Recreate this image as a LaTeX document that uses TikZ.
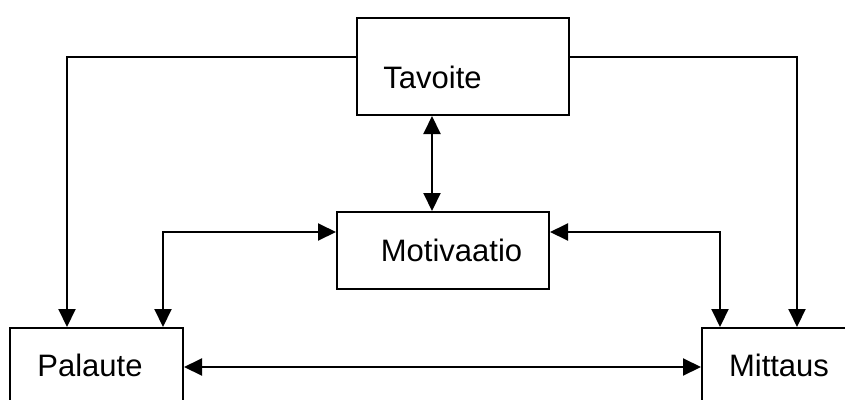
\documentclass[tikz,border=0pt]{standalone}
\usepackage{fontspec}
\setmainfont{Liberation Sans}
\usetikzlibrary{arrows.meta}
\begin{document}
\begin{tikzpicture}[x=1pt,y=-1pt,
  box/.style={draw=black,line width=2pt,rectangle,inner sep=0pt,fill=none},
  lbl/.style={inner sep=0pt,font=\fontsize{31}{31}\selectfont},
  conn/.style={line width=2pt,draw=black},
  tipa/.style={-{Triangle[length=18pt,width=17pt]}},
  tipb/.style={{Triangle[length=18pt,width=17pt]}-{Triangle[length=18pt,width=17pt]}}]
\clip (0,0) rectangle (845,399);
\fill[white] (0,0) rectangle (845,399);
\node[box,minimum width=212pt,minimum height=97pt] (tav) at (463,66.5) {};
\node[box,minimum width=212pt,minimum height=77pt] (mot) at (443,250.5) {};
\node[box,minimum width=173pt,minimum height=92pt] (pal) at (96.5,374) {};
\node[box,minimum width=158pt,minimum height=92pt] (mit) at (781,374) {};
\node[lbl] (tavt) at (432.5,77) {Tavoite};
\node[lbl] (mott) at (451.5,250) {Motivaatio};
\node[lbl] (palt) at (90,365) {Palaute};
\node[lbl] (mitt) at (779,365) {Mittaus};
\coordinate (tl) at (67,57);
\coordinate (tr) at (797,57);
\coordinate (tm) at (432,0);
\coordinate (ml) at (163,232);
\coordinate (mr) at (720,232);
\coordinate (hb) at (0,367);
\draw[conn,tipa] (tav.west |- tl) -- (tl) -- (tl |- pal.north);
\draw[conn,tipa] (tav.east |- tr) -- (tr) -- (tr |- mit.north);
\draw[conn,tipb] (tav.south -| tm) -- (mot.north -| tm);
\draw[conn,tipb] (mot.west |- ml) -- (ml) -- (ml |- pal.north);
\draw[conn,tipb] (mot.east |- mr) -- (mr) -- (mr |- mit.north);
\draw[conn,tipb] (pal.east |- hb) -- (mit.west |- hb);
\end{tikzpicture}
\end{document}
